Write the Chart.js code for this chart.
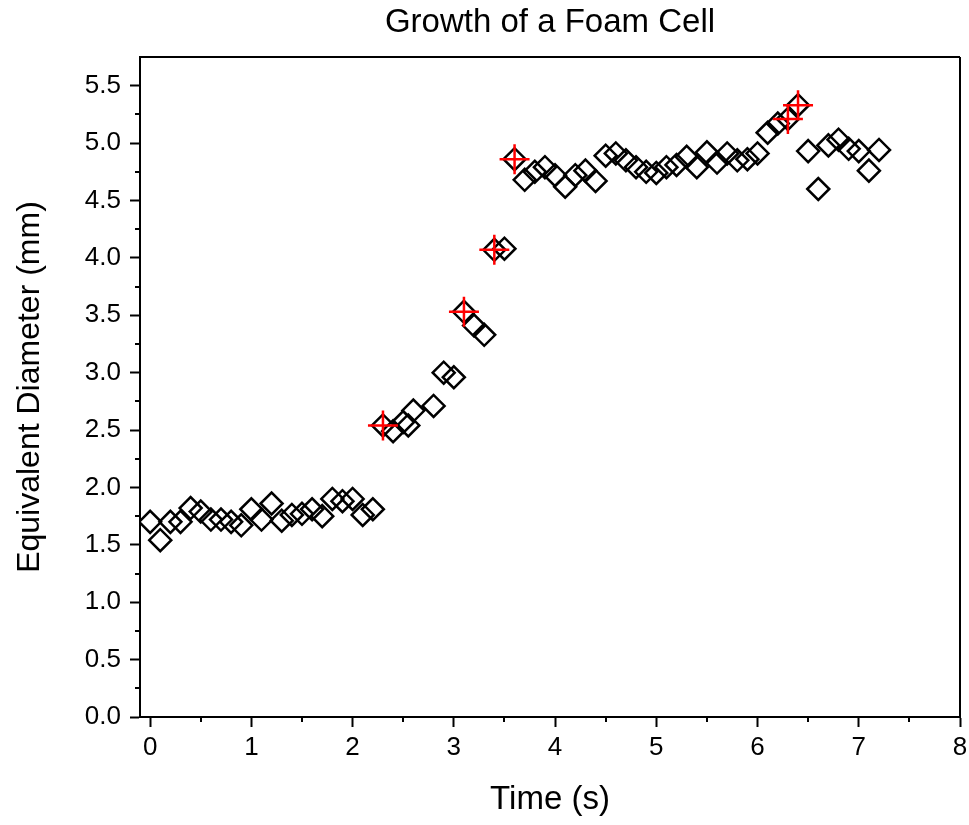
<!DOCTYPE html>
<html>
<head>
<meta charset="utf-8">
<script src="https://cdn.jsdelivr.net/npm/chart.js@4.4.1/dist/chart.umd.min.js"></script>
<style>
  html, body { margin: 0; padding: 0; background: #fff; }
  #wrap { width: 969px; height: 825px; }
</style>
</head>
<body>
<div id="wrap"><canvas id="myChart" width="969" height="825"></canvas></div>
<script>
// measured diameters (mm) over time (s)
const times = [0.0, 0.1, 0.2, 0.3, 0.4, 0.5, 0.6, 0.7, 0.8, 0.9,
  1.0, 1.1, 1.2, 1.3, 1.4, 1.5, 1.6, 1.7, 1.8, 1.9,
  2.0, 2.1, 2.2, 2.3, 2.4, 2.5, 2.55, 2.6, 2.8, 2.9,
  3.0, 3.1, 3.2, 3.3, 3.4, 3.5, 3.6, 3.7, 3.8, 3.9,
  4.0, 4.1, 4.2, 4.3, 4.4, 4.5, 4.6, 4.7, 4.8, 4.9,
  5.0, 5.1, 5.2, 5.3, 5.4, 5.5, 5.6, 5.7, 5.8, 5.9,
  6.0, 6.1, 6.2, 6.3, 6.4, 6.5, 6.6, 6.7, 6.8, 6.9,
  7.0, 7.1, 7.2];
const diameters = [1.70, 1.54, 1.70, 1.70, 1.82, 1.79, 1.72, 1.72, 1.70, 1.67,
  1.81, 1.72, 1.86, 1.71, 1.76, 1.77, 1.81, 1.75, 1.90, 1.88,
  1.90, 1.76, 1.81, 2.54, 2.49, 2.57, 2.54, 2.67, 2.71, 3.00,
  2.96, 3.53, 3.41, 3.33, 4.07, 4.08, 4.86, 4.68, 4.75, 4.79,
  4.72, 4.62, 4.72, 4.76, 4.67, 4.89, 4.91, 4.85, 4.79, 4.75,
  4.74, 4.79, 4.81, 4.88, 4.79, 4.92, 4.83, 4.91, 4.85, 4.86,
  4.91, 5.09, 5.17, 5.21, 5.33, 4.93, 4.60, 4.98, 5.03, 4.95,
  4.93, 4.76, 4.94];
// highlighted points (red crosses)
const markedTimes = [2.3, 3.1, 3.4, 3.6, 6.3, 6.4];
const markedDiameters = [2.54, 3.53, 4.07, 4.86, 5.21, 5.33];

const xTicks = [0, 1, 2, 3, 4, 5, 6, 7, 8];
const xMinorTicks = [0.5, 1.5, 2.5, 3.5, 4.5, 5.5, 6.5, 7.5];
const yTicks = [0, 0.5, 1, 1.5, 2, 2.5, 3, 3.5, 4, 4.5, 5, 5.5];
const yMinorTicks = [0.25, 0.75, 1.25, 1.75, 2.25, 2.75, 3.25, 3.75, 4.25, 4.75, 5.25];

const FONT = "'Liberation Sans', Arial, sans-serif";

// frame, minor ticks and title
const extras = {
  id: "extras",
  afterDraw(chart) {
    const ctx = chart.ctx;
    const a = chart.chartArea;
    const xs = chart.scales.x, ys = chart.scales.y;
    ctx.save();
    ctx.strokeStyle = "#000";
    ctx.lineWidth = 2;
    ctx.beginPath();
    ctx.moveTo(a.left - 1, a.top); ctx.lineTo(a.right, a.top);
    ctx.moveTo(a.right, a.top); ctx.lineTo(a.right, a.bottom);
    xMinorTicks.forEach(v => {
      const px = Math.round(xs.getPixelForValue(v));
      ctx.moveTo(px, a.bottom); ctx.lineTo(px, a.bottom + 5);
    });
    yMinorTicks.forEach(v => {
      const py = Math.round(ys.getPixelForValue(v));
      ctx.moveTo(a.left, py); ctx.lineTo(a.left - 5, py);
    });
    ctx.stroke();
    ctx.fillStyle = "#000";
    ctx.font = "33px " + FONT;
    ctx.textAlign = "center";
    ctx.textBaseline = "middle";
    ctx.fillText("Growth of a Foam Cell", (a.left + a.right) / 2, 23);
    ctx.restore();
  }
};

new Chart(document.getElementById("myChart").getContext("2d"), {
  type: "scatter",
  data: {
    datasets: [
      {
        label: "marked",
        data: markedTimes.map((t, i) => ({ x: t, y: markedDiameters[i] })),
        pointStyle: "cross",
        pointRadius: 15,
        pointBorderWidth: 2.5,
        borderColor: "#ff0000",
        backgroundColor: "#ff0000",
      },
      {
        label: "diameter",
        data: times.map((t, i) => ({ x: t, y: diameters[i] })),
        pointStyle: "rectRot",
        pointRadius: 11,
        pointBorderWidth: 2.5,
        borderColor: "#000",
        backgroundColor: "rgba(0,0,0,0)",
      },
    ],
  },
  options: {
    responsive: false,
    animation: false,
    layout: { autoPadding: false, padding: { top: 57, right: 9, left: 0, bottom: 0 } },
    plugins: { legend: { display: false }, tooltip: { enabled: false }, title: { display: false } },
    scales: {
      x: {
        type: "linear",
        min: -0.1,
        max: 8,
        afterBuildTicks: s => { s.ticks = xTicks.map(v => ({ value: v })); },
        afterFit: s => { s.height = 108; s.paddingLeft = 0; s.paddingRight = 0; },
        grid: { drawOnChartArea: false, tickLength: 10, tickWidth: 2, tickColor: "#000" },
        border: { color: "#000", width: 2 },
        ticks: { color: "#000", font: { family: FONT, size: 26 }, padding: 5, maxRotation: 0 },
        title: { display: true, text: "Time (s)", color: "#000", font: { family: FONT, size: 33 }, padding: { top: 0, bottom: 5 } },
      },
      y: {
        type: "linear",
        min: 0,
        max: 5.75,
        afterBuildTicks: s => { s.ticks = yTicks.map(v => ({ value: v })); },
        afterFit: s => { s.width = 140; s.paddingTop = 0; s.paddingBottom = 0; },
        grid: { drawOnChartArea: false, tickLength: 10, tickWidth: 2, tickColor: "#000" },
        border: { color: "#000", width: 2 },
        ticks: { color: "#000", font: { family: FONT, size: 26 }, padding: 9, callback: v => v.toFixed(1) },
        title: { display: true, text: "Equivalent Diameter (mm)", color: "#000", font: { family: FONT, size: 32 }, padding: { top: 11, bottom: 0 } },
      },
    },
  },
  plugins: [extras],
});
</script>
</body>
</html>
